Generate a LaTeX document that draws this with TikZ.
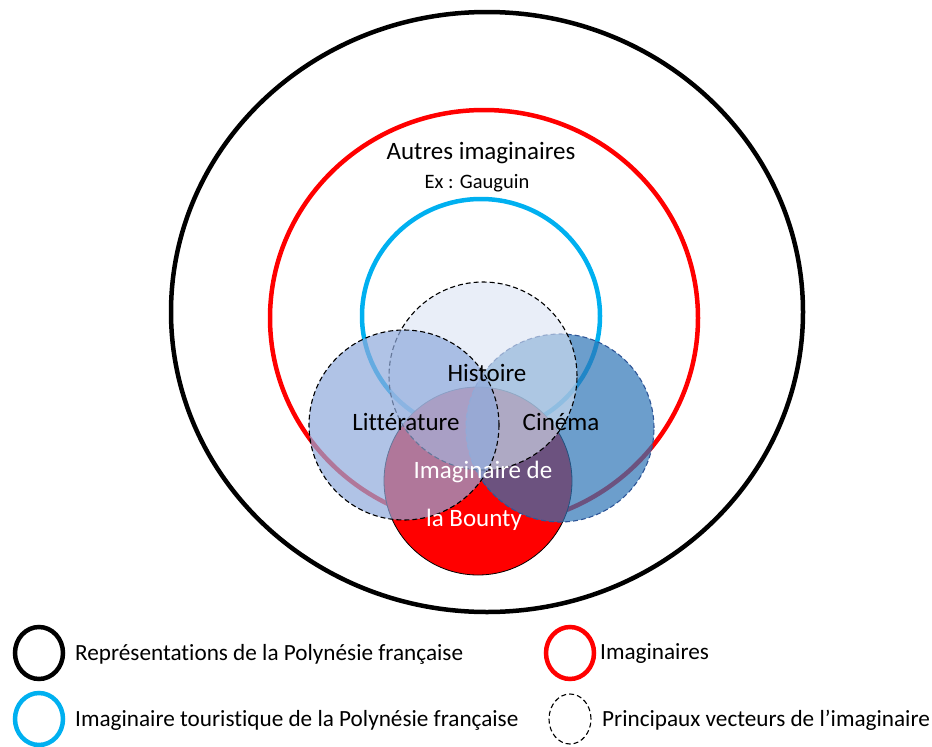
\documentclass[tikz,border=0pt]{standalone}
\usepackage{fontspec}
\setmainfont{Carlito}[Ligatures=NoCommon]
\usepackage{tikz}
\definecolor{ringred}{RGB}{255,0,0}
\definecolor{ringblue}{RGB}{0,176,240}
\definecolor{histfill}{RGB}{218,227,243}
\definecolor{littfill}{RGB}{143,170,220}
\definecolor{cinefill}{RGB}{46,117,182}
\definecolor{cineline}{RGB}{47,85,151}

\begin{document}
\begin{tikzpicture}[x=1pt,y=-1pt,
    ring/.style={line width=4.5pt},
    vecteur/.style={line width=1.1pt, dash pattern=on 5pt off 3pt},
    txt/.style={font=\fontsize{25}{30}\selectfont, inner sep=0pt},
    smalltxt/.style={font=\fontsize{20.5}{24}\selectfont, inner sep=0pt},
    legtxt/.style={font=\fontsize{23.2}{28}\selectfont, inner sep=0pt, anchor=west}]
  \useasboundingbox (0,0) rectangle (932,747);
  % centres
  \coordinate (repr) at (487,312);
  \coordinate (imag) at (484,318);
  \coordinate (tour) at (481,316);
  \coordinate (histoire) at (483,376);
  \coordinate (litt) at (404,425);
  \coordinate (cine) at (560,428);
  \coordinate (bounty) at (478,481);
  % Representations
  \draw[ring] (repr) ellipse [x radius=316pt, y radius=300pt];
  % Imaginaires
  \draw[ring, ringred] (imag) ellipse [x radius=214pt, y radius=208pt];
  % Imaginaire touristique
  \draw[ring, ringblue] (tour) ellipse [x radius=119pt, y radius=117pt];
  % Bounty
  \filldraw[fill=ringred, draw=black, line width=0.8pt] (bounty) circle [radius=94pt];
  % Cinema
  \fill[cinefill, fill opacity=0.7] (cine) circle [radius=94pt];
  \draw[vecteur, cineline] (cine) circle [radius=94pt];
  % Histoire
  \fill[histfill, fill opacity=0.6] (histoire) circle [radius=94pt];
  \draw[vecteur] (histoire) circle [radius=94pt];
  % Litterature
  \fill[littfill, fill opacity=0.7] (litt) circle [radius=95pt];
  \draw[vecteur] (litt) circle [radius=95pt];
  % texts
  \node[txt] (autres) at (481,153) {Autres imaginaires};
  \node[smalltxt] (ex) at (477,183) {Ex : Gauguin};
  \node[txt] (histtxt) at (487,373) {Histoire};
  \node[txt] (litttxt) at (406,422) {Littérature};
  \node[txt] (cinetxt) at (561,422) {Cinéma};
  \node[txt, white] (bountya) at (483,472) {Imaginaire de};
  \node[txt, white] (bountyb) at (474,520) {la Bounty};
  % legend
  \draw[ring] (39,653) ellipse [x radius=24pt, y radius=26pt];
  \node[legtxt] (leg1) at (75,654) {Représentations de la Polynésie française};
  \draw[ring, ringred] (570,653) ellipse [x radius=24pt, y radius=26pt];
  \node[legtxt] (leg2) at (600,654) {Imaginaires};
  \draw[ring, ringblue] (39,719) ellipse [x radius=24pt, y radius=26pt];
  \node[legtxt] (leg3) at (75,720) {Imaginaire touristique de la Polynésie française};
  \draw[vecteur] (570,719) ellipse [x radius=21pt, y radius=25pt];
  \node[legtxt] (leg4) at (602,720) {Principaux vecteurs de l’imaginaire};
\end{tikzpicture}
\end{document}
